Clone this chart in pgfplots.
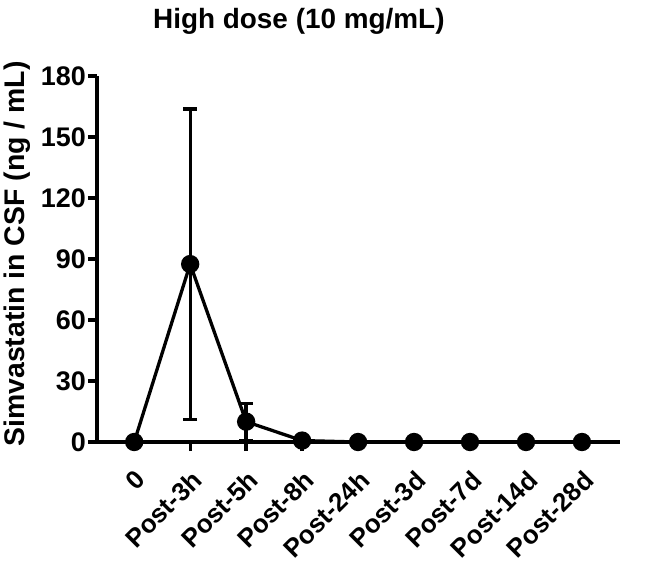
\documentclass[border=0pt]{standalone}
\usepackage{fontspec}
\setmainfont{Liberation Sans}
\usepackage{pgfplots}
\pgfplotsset{compat=1.18}
\usetikzlibrary{calc}
\begin{document}
\begin{tikzpicture}
\begin{axis}[
  scale only axis, width=523bp, height=366bp,
  xmin=-0.665, xmax=8.68, ymin=0, ymax=180,
  axis x line*=bottom, axis y line*=left,
  axis line style={line width=3.3bp,-},
  xtick={0,...,8},
  xticklabels={0,Post-3h,Post-5h,Post-8h,Post-24h,Post-3d,Post-7d,Post-14d,Post-28d},
  ytick={0,30,...,180},
  tick style={line width=3.3bp,black},
  tick align=outside, major tick length=9bp,
  /pgf/number format/assume math mode=true,
  y tick label style={font=\fontsize{27}{29}\selectfont\bfseries,inner sep=2bp},
  x tick label style={font=\fontsize{26}{28}\selectfont\bfseries,
    yshift=-16bp,xshift=0bp,rotate=45,anchor=north east,inner sep=1bp},
  clip=false,
]
\addplot[black,line width=3.3bp,mark=*,mark size=7.5bp,
  error bars/.cd,y dir=both,y explicit,
  error bar style={line width=3.3bp},
  error mark options={rotate=90,mark size=7bp,line width=3.3bp}]
  coordinates {
  (0,0) +- (0,0)
  (1,87.5) +- (0,76.3)
  (2,10.0) +- (0,9.1)
  (3,0.7) +- (0,0)
  (4,0) +- (0,0)
  (5,0) +- (0,0)
  (6,0) +- (0,0)
  (7,0) +- (0,0)
  (8,0) +- (0,0)
  };
\coordinate (sw) at (rel axis cs:0,0);
\coordinate (tt) at (rel axis cs:0.386,1);
\end{axis}
\node[font=\fontsize{28}{30}\selectfont\bfseries,anchor=base] at ($(tt)+(0,47bp)$) {High dose (10 mg/mL)};
\node[font=\fontsize{28.5}{30}\selectfont\bfseries,rotate=90,anchor=center] at ($(sw)+(-80bp,188bp)$) {Simvastatin in CSF (ng / mL)};
\pgfresetboundingbox
\path[use as bounding box] ($(sw)+(-97bp,-121bp)$) rectangle ($(sw)+(557bp,442bp)$);
\end{tikzpicture}
\end{document}
